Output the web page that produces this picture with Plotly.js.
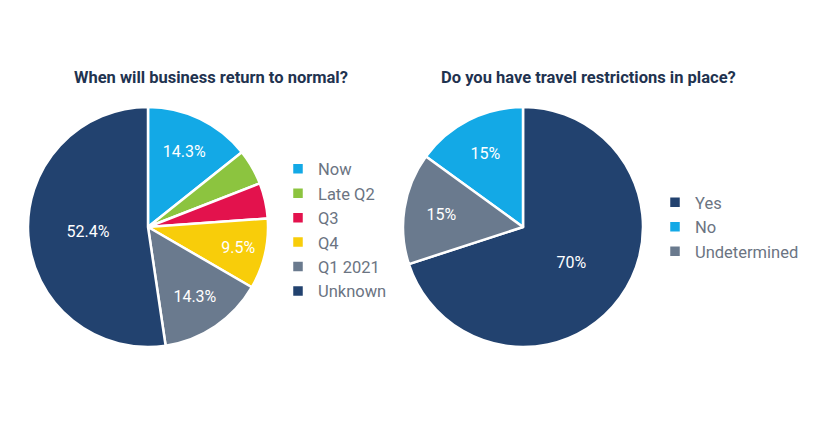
<!DOCTYPE html>
<html>
<head>
<meta charset="utf-8">
<script src="https://cdn.plot.ly/plotly-3.0.1.min.js"></script>
<style>
  html, body { margin: 0; padding: 0; background: #ffffff; }
  #chart { width: 820px; height: 440px; }
</style>
</head>
<body>
<div id="chart"></div>
<script>
// Left pie: when will business return to normal
const returnLabels = ['Now', 'Late Q2', 'Q3', 'Q4', 'Q1 2021', 'Unknown'];
const returnValues = [14.3, 4.8, 4.8, 9.5, 14.3, 52.4];
const returnColors = ['#13a9e6', '#8cc43f', '#e3124d', '#f8cd0a', '#6a7a8e', '#22426f'];

// Right pie: travel restrictions
const travelLabels = ['Yes', 'No', 'Undetermined'];
const travelValues = [70, 15, 15];
const travelColors = ['#22426f', '#13a9e6', '#6a7a8e'];

const W = 820, H = 440;
const FONT = 'Roboto, "Noto Sans", sans-serif';

// only the bigger slices carry a label
function sliceText(vals) {
    return vals.map(v => v >= 9 ? v + '%' : '');
}

function pxDomain(x0, x1, y0, y1) {
    return { x: [x0 / W, x1 / W], y: [1 - y1 / H, 1 - y0 / H] };
}

const leftPie = {
    type: 'pie',
    labels: returnLabels,
    values: returnValues,
    text: sliceText(returnValues),
    textinfo: 'text',
    textposition: 'inside',
    insidetextorientation: 'horizontal',
    textfont: { color: '#ffffff', size: 16, family: FONT },
    sort: false,
    direction: 'clockwise',
    rotation: 0,
    marker: { colors: returnColors, line: { color: '#ffffff', width: 2.5 } },
    domain: pxDomain(28, 268, 107, 347),
    legend: 'legend',
    hoverinfo: 'label+percent'
};

// counterclockwise: first slice (Yes) runs clockwise from 12 o'clock, rest go ccw
const rightPie = {
    type: 'pie',
    labels: travelLabels,
    values: travelValues,
    text: sliceText(travelValues),
    textinfo: 'text',
    textposition: 'inside',
    insidetextorientation: 'horizontal',
    textfont: { color: '#ffffff', size: 16, family: FONT },
    sort: false,
    direction: 'counterclockwise',
    rotation: 0,
    marker: { colors: travelColors, line: { color: '#ffffff', width: 2.5 } },
    domain: pxDomain(403, 643, 107, 347),
    legend: 'legend2',
    hoverinfo: 'label+percent'
};

const legendFont = { family: FONT, size: 16.5, color: '#6b7482' };

const layout = {
    width: W,
    height: H,
    margin: { l: 0, r: 0, t: 0, b: 0 },
    paper_bgcolor: '#ffffff',
    font: { family: FONT },
    showlegend: true,
    legend: {
        x: 278 / W, xanchor: 'left',
        y: 1 - 230 / H, yanchor: 'middle',
        font: legendFont,
        bgcolor: 'rgba(0,0,0,0)'
    },
    legend2: {
        x: 655 / W, xanchor: 'left',
        y: 1 - 227 / H, yanchor: 'middle',
        font: legendFont,
        bgcolor: 'rgba(0,0,0,0)'
    },
    annotations: [
        {
            text: '<b>When will business return to normal?</b>',
            x: 211 / W, y: 1 - 78 / H, xref: 'paper', yref: 'paper',
            xanchor: 'center', yanchor: 'middle', showarrow: false,
            font: { family: FONT, size: 16.5, color: '#1f3350' }
        },
        {
            text: '<b>Do you have travel restrictions in place?</b>',
            x: 588 / W, y: 1 - 78 / H, xref: 'paper', yref: 'paper',
            xanchor: 'center', yanchor: 'middle', showarrow: false,
            font: { family: FONT, size: 16.5, color: '#1f3350' }
        }
    ]
};

Plotly.newPlot('chart', [leftPie, rightPie], layout, { displayModeBar: false, staticPlot: true });
</script>
</body>
</html>
